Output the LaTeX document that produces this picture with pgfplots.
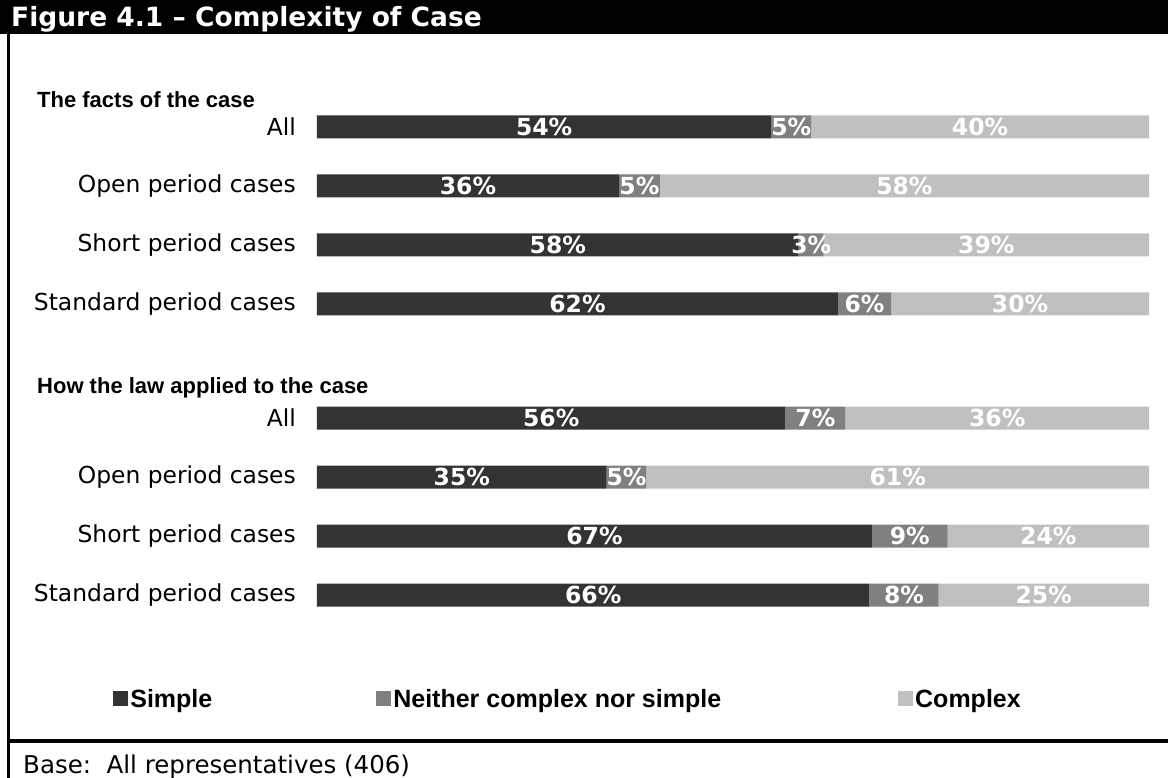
\documentclass[border=0pt]{standalone}
\usepackage{pgfplots}
\pgfplotsset{compat=1.18}
\usepackage{fontspec}
\setmainfont{DejaVu Sans}
\newfontfamily\arial{Liberation Sans}
\definecolor{cdark}{HTML}{333333}
\definecolor{cmid}{HTML}{808080}
\definecolor{clight}{HTML}{C0C0C0}
\begin{document}
\begin{tikzpicture}[x=1pt,y=1pt]
\useasboundingbox (0,0) rectangle (1168,-778);
\fill[black] (0,0) rectangle (1168,-34);
\fill[black] (7,-34) rectangle (10,-778);
\fill[black] (7,-739) rectangle (1168,-743);
\node[anchor=base west, text=white, inner sep=0pt, font=\bfseries\fontsize{26.5}{30}\selectfont] at (11,-27) {Figure 4.1 – Complexity of Case};
\node[anchor=base west, inner sep=0pt, font=\arial\bfseries\fontsize{22}{26}\selectfont] at (37,-108) {The facts of the case};
\node[anchor=base west, inner sep=0pt, font=\arial\bfseries\fontsize{22}{26}\selectfont] at (37,-393) {How the law applied to the case};
\node[anchor=base west, inner sep=0pt, font=\fontsize{24.5}{28}\selectfont] at (23,-773) {Base:\ \ All representatives (406)};

\begin{axis}[
  at={(317pt,-778pt)}, anchor=south west,
  scale only axis, width=832pt, height=778pt,
  xmin=0, xmax=100, ymin=-778, ymax=0,
  xbar stacked, bar width=23,
  axis line style={draw=none}, tick style={draw=none},
  xtick=\empty,
  ytick={-127,-186,-245,-304,-418,-477,-536,-595},
  yticklabels={All,Open period cases,Short period cases,Standard period cases,All,Open period cases,Short period cases,Standard period cases},
  yticklabel style={font=\fontsize{23.4}{26}\selectfont, anchor=east, inner sep=0pt, xshift=-21pt},
  legend columns=3,
  legend cell align=left,
  legend style={at={(axis cs:-24.5,-699)}, anchor=west, draw=none, fill=none, inner sep=0pt,
    nodes={inner sep=2pt},
    font=\arial\bfseries\fontsize{25}{29}\selectfont,
    /tikz/column 2/.style={column sep=162pt},
    /tikz/column 4/.style={column sep=175pt}},
  legend image code/.code={\fill[#1] (0pt,-7pt) rectangle (15pt,8pt);},
]
\addplot[draw=none, fill=cdark] coordinates {
 (54.6,-127) (36.3,-186) (57.9,-245) (62.6,-304)
 (56.3,-418) (34.8,-477) (66.7,-536) (66.4,-595)};
\addplot[draw=none, fill=cmid] coordinates {
 (4.8,-127) (4.9,-186) (3.0,-245) (6.4,-304)
 (7.2,-418) (4.8,-477) (9.1,-536) (8.3,-595)};
\addplot[draw=none, fill=clight] coordinates {
 (40.6,-127) (58.8,-186) (39.1,-245) (31.0,-304)
 (36.5,-418) (60.4,-477) (24.2,-536) (25.3,-595)};
\legend{Simple, Neither complex nor simple, Complex}
\end{axis}

\begin{axis}[
  at={(317pt,-778pt)}, anchor=south west,
  scale only axis, width=832pt, height=778pt,
  xmin=0, xmax=100, ymin=-778, ymax=0,
  hide axis, clip=false,
]
\addplot[draw=none, mark=none, nodes near coords, point meta=explicit symbolic,
  nodes near coords style={text=white, anchor=center, inner sep=0pt, font=\bfseries\fontsize{23.5}{26}\selectfont}]
 coordinates {
 (27.3,-127)[54\%] (57.0,-127)[5\%] (79.7,-127)[40\%]
 (18.15,-186)[36\%] (38.75,-186)[5\%] (70.6,-186)[58\%]
 (28.95,-245)[58\%] (59.4,-245)[3\%] (80.45,-245)[39\%]
 (31.3,-304)[62\%] (65.8,-304)[6\%] (84.5,-304)[30\%]
 (28.15,-418)[56\%] (59.9,-418)[7\%] (81.75,-418)[36\%]
 (17.4,-477)[35\%] (37.2,-477)[5\%] (69.8,-477)[61\%]
 (33.35,-536)[67\%] (71.25,-536)[9\%] (87.9,-536)[24\%]
 (33.2,-595)[66\%] (70.55,-595)[8\%] (87.35,-595)[25\%]
 };
\end{axis}
\end{tikzpicture}
\end{document}
